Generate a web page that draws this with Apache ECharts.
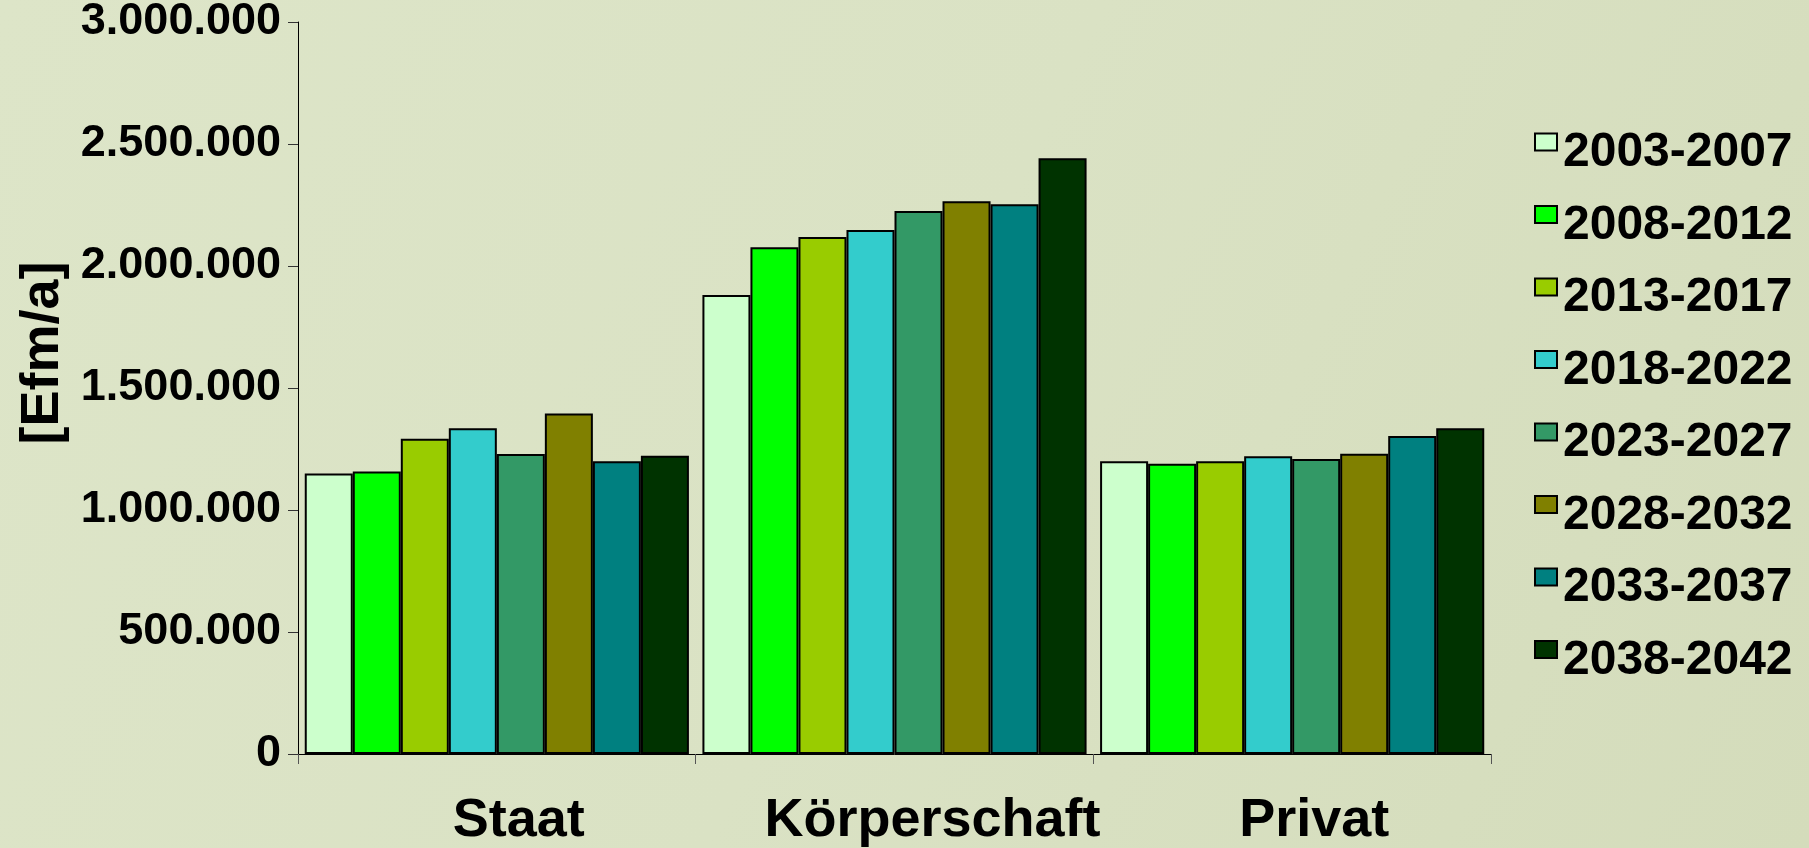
<!DOCTYPE html>
<html>
<head>
<meta charset="utf-8">
<title>Einschlag nach Besitzart</title>
<script src="https://cdn.jsdelivr.net/npm/echarts@6/dist/echarts.min.js"></script>
<style>
  html, body { margin: 0; padding: 0; }
  #main { width: 1809px; height: 848px; }
</style>
</head>
<body>
<div id="main"></div>
<script>
// Kategorien (Besitzarten) und Perioden
const categories = ['Staat', 'Körperschaft', 'Privat']
const periods = ['2003-2007', '2008-2012', '2013-2017', '2018-2022', '2023-2027', '2028-2032', '2033-2037', '2038-2042']
const periodColors = ['#CCFFCC', '#00FF00', '#99CC00', '#33CCCC', '#339966', '#808000', '#008080', '#003300']

// Werte in Efm/a, je Kategorie eine Liste über die Perioden
const staat = [1150000, 1158000, 1292000, 1335000, 1230000, 1396000, 1200000, 1222000]
const koerperschaft = [1881000, 2077000, 2119000, 2148000, 2225000, 2265000, 2253000, 2442000]
const privat = [1200000, 1190000, 1200000, 1220000, 1209000, 1231000, 1303000, 1335000]

const yMin = 0
const yMax = 3000000
const yStep = 500000

const font = "'Liberation Sans', Arial, sans-serif"

// Tausenderpunkte wie im Original
function formatNumber (v) {
  return String(v).replace(/\B(?=(\d{3})+(?!\d))/g, '.')
}

let myChart = echarts.init(document.getElementById('main'))

let series = periods.map((p, i) => {
  return {
    name: p,
    type: 'bar',
    barGap: '0%',
    barCategoryGap: '3.4%',
    data: [staat[i], koerperschaft[i], privat[i]],
    itemStyle: {
      color: periodColors[i],
      borderColor: '#000',
      borderWidth: 2
    }
  }
})

// Beschriftungen sitzen im Original etwas rechts der Kategoriemitte
let xData = categories.map((c) => {
  return {
    value: c,
    textStyle: { padding: [0, 0, 0, c === 'Körperschaft' ? 76 : 44] }
  }
})

myChart.setOption({
  backgroundColor: {
    type: 'linear',
    x: 0, y: 0, x2: 1, y2: 1,
    colorStops: [
      { offset: 0, color: '#dde5c8' },
      { offset: 0.5, color: '#dae2c4' },
      { offset: 1, color: '#d4dcbb' }
    ]
  },
  animation: false,
  textStyle: { fontFamily: font },
  grid: {
    left: 298,
    right: 318,
    top: 22,
    bottom: 94,
    // Gitter nicht wegen der großen Beschriftung verkleinern
    outerBoundsMode: 'none'
  },
  legend: {
    orient: 'vertical',
    left: 1534,
    top: 129,
    padding: 0,
    itemGap: 24.5,
    itemWidth: 22,
    itemHeight: 39,
    // Kästchen sitzt oben, wie im Original
    icon: 'path://M0,0L22,0L22,17L0,17Z M0,39',
    data: periods,
    textStyle: {
      fontFamily: font,
      fontSize: 48,
      fontWeight: 'bold',
      color: '#000',
      lineHeight: 47,
      padding: [0, 0, 0, 1]
    }
  },
  xAxis: {
    type: 'category',
    data: xData,
    axisLine: { lineStyle: { color: '#000', width: 1 } },
    axisTick: { show: true, length: 10, lineStyle: { color: '#555' } },
    axisLabel: {
      interval: 0,
      margin: 40,
      fontFamily: font,
      fontSize: 54,
      fontWeight: 'bold',
      color: '#000'
    }
  },
  yAxis: {
    type: 'value',
    min: yMin,
    max: yMax,
    interval: yStep,
    name: '[Efm/a]',
    nameLocation: 'middle',
    nameGap: 225,
    nameTextStyle: {
      fontFamily: font,
      fontSize: 54,
      fontWeight: 'bold',
      color: '#000',
      padding: [0, 0, 0, 70]
    },
    axisLine: { show: true, lineStyle: { color: '#000', width: 1 } },
    axisTick: { show: true, length: 10, lineStyle: { color: '#333' } },
    splitLine: { show: false },
    axisLabel: {
      margin: 17,
      fontFamily: font,
      fontSize: 45,
      fontWeight: 'bold',
      color: '#000',
      formatter: (v) => formatNumber(v)
    }
  },
  series: series
})
</script>
</body>
</html>
